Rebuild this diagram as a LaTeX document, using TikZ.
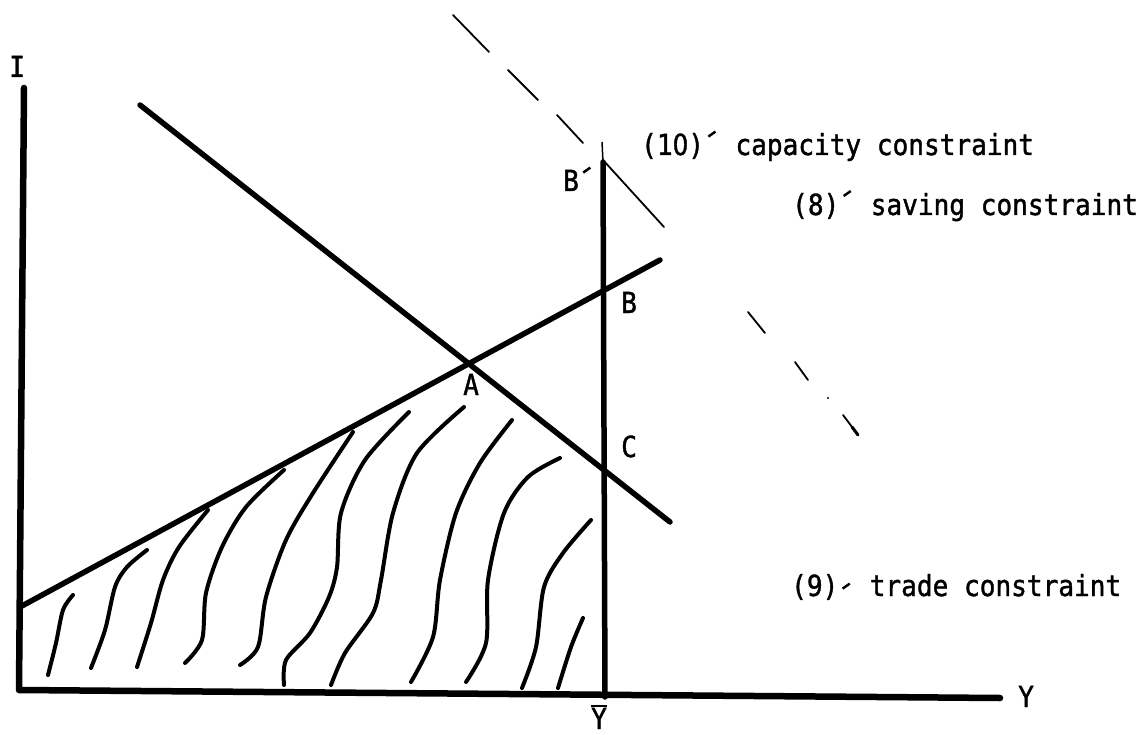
\documentclass[tikz,border=0pt]{standalone}
\usepackage{fontspec}
\newfontfamily\tw[FakeStretch=0.9,FakeBold=1.3]{DejaVu Sans Mono}
\newfontfamily\twz[FakeStretch=0.85,FakeBold=1.3]{DejaVu Sans}
\newcommand\tk[1]{\makebox[0.542em][c]{\raisebox{#1}{\rotatebox{35}{\rule{0.3em}{0.085em}}}}}
\newcommand\zro{\makebox[0.542em][c]{\twz 0}}
\begin{document}
\begin{tikzpicture}[x=1pt,y=-1pt,
  ax/.style={line width=6.5pt,line cap=round,line join=round},
  cl/.style={line width=5.5pt,line cap=round},
  ht/.style={line width=4pt,line cap=round},
  ds/.style={line width=1.8pt,line cap=round},
  lbl/.style={font=\tw\fontsize{29}{30}\selectfont,inner sep=0pt,anchor=base west}]
\useasboundingbox (0,0) rectangle (1148,735);
% axes
\coordinate (Itop) at (24,88);
\coordinate (O) at (19,690);
\coordinate (Yend) at (1000,698);
\draw[ax] (Itop) -- (O) -- (Yend);
% capacity line Ybar
\coordinate (Ybt) at (603,162);
\coordinate (Ybb) at (605,697);
\draw[cl] (Ybt) -- (Ybb);
\draw[line width=1.5pt] (602,142) -- (Ybt);
% trade constraint
\draw[cl] (140,105) -- (670,522);
% saving constraint
\draw[cl] (20,607) -- (660,260);
% dashed capacity constraint (10)'
\draw[ds] (453,15) -- (489,52);
\draw[ds] (508,70) -- (538,100);
\draw[ds] (557,115) -- (583,143);
\draw[ds] (603,160) -- (664,227);
\draw[ds] (748,312) -- (765,333);
\draw[ds] (795,362) -- (808,380);
\fill (828,398) circle (1.2pt);
\draw[ds] (843,415) -- (852,427);
\draw[line width=3pt,line cap=round] (852,427) -- (858,435);
% hatching
\draw[ht] plot[smooth] coordinates {(48,675) (56,643) (63,610) (73,595)};
\draw[ht] plot[smooth] coordinates {(91,668) (105,630) (115,587) (127,567) (147,550)};
\draw[ht] plot[smooth] coordinates {(137,667) (151,623) (163,580) (179,547) (208,510)};
\draw[ht] plot[smooth] coordinates {(185,663) (202,640) (206,593) (222,547) (246,507) (284,470)};
\draw[ht] plot[smooth] coordinates {(240,665) (258,647) (266,597) (286,540) (313,493) (353,432)};
\draw[ht] plot[smooth] coordinates {(284,685) (286,660) (310,633) (329,597) (337,567) (341,513) (365,460) (409,412)};
\draw[ht] plot[smooth] coordinates {(331,685) (345,653) (373,613) (381,580) (393,513) (417,453) (464,407)};
\draw[ht] plot[smooth] coordinates {(411,682) (433,637) (440,580) (456,513) (480,463) (512,420)};
\draw[ht] plot[smooth] coordinates {(466,682) (486,643) (488,580) (504,513) (528,477) (560,458)};
\draw[ht] plot[smooth] coordinates {(522,688) (536,647) (544,587) (563,553) (591,520)};
\draw[ht] plot[smooth] coordinates {(558,688) (571,647) (583,618)};
% labels
\node[lbl] (lI) at (9,77) {I};
\node[lbl] (lY) at (1018,707) {Y};
\node[lbl] (lYb) at (591,729) {Y};
\draw[line width=1.8pt] (591,706) -- (607,706);
\node[lbl] (lA) at (463,395) {A};
\node[lbl] (lB) at (621,313) {B};
\node[lbl] (lC) at (621,457) {C};
\node[lbl] (lBp) at (563,191) {B\tk{0.6em}};
\node[lbl] (l10) at (641,155) {(1\zro)\tk{0.6em} capacity constraint};
\node[lbl] (l8) at (792,215) {(8)\tk{0.62em} saving constraint};
\node[lbl] (l9) at (791,596) {(9)\tk{0.22em} trade constraint};
\end{tikzpicture}
\end{document}
